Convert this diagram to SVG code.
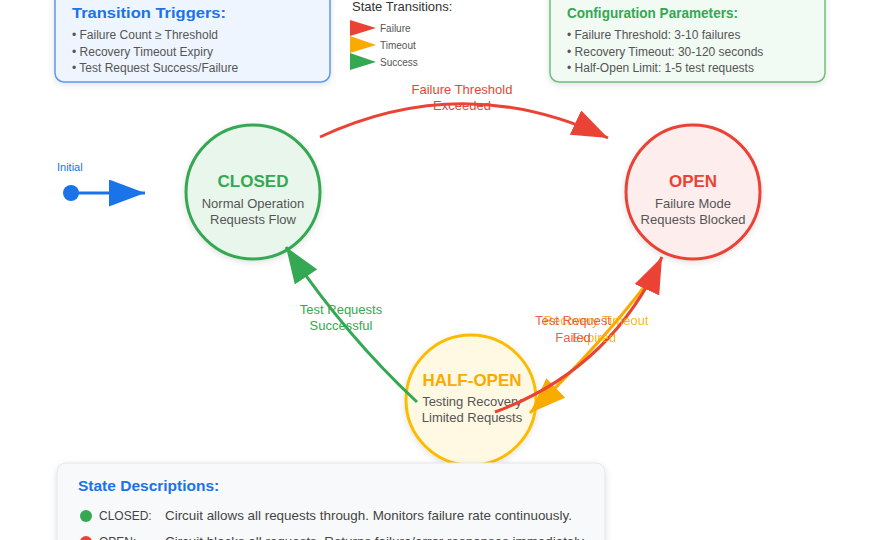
<svg xmlns="http://www.w3.org/2000/svg" width="880" height="540" viewBox="0 0 880 540">
<defs>
<style>
text{font-family:"Liberation Sans",Arial,sans-serif}
.ttl{font-size:15px;font-weight:bold}
.bul{font-size:12px;fill:#555}
.nt{font-size:17px;font-weight:bold;text-anchor:middle}
.ns{font-size:13px;fill:#555;text-anchor:middle}
.lbl{font-size:13px;text-anchor:middle}
.lg{font-size:10px;fill:#555}
.row{font-size:12px;fill:#444}
.desc{font-size:13.4px;fill:#444}
</style>
<filter id="sh" x="-20%" y="-20%" width="140%" height="140%">
<feDropShadow dx="0" dy="2" stdDeviation="3" flood-color="#000" flood-opacity="0.12"/>
</filter>
<marker id="mR" viewBox="0 0 12 9" refX="12" refY="4.5" markerWidth="12" markerHeight="9" orient="auto"><path d="M0,0 L12,4.5 L0,9 Z" fill="#ea4335"/></marker>
<marker id="mO" viewBox="0 0 12 9" refX="12" refY="4.5" markerWidth="12" markerHeight="9" orient="auto"><path d="M0,0 L12,4.5 L0,9 Z" fill="#f9ab00"/></marker>
<marker id="mG" viewBox="0 0 12 9" refX="12" refY="4.5" markerWidth="12" markerHeight="9" orient="auto"><path d="M0,0 L12,4.5 L0,9 Z" fill="#34a853"/></marker>
<marker id="mB" viewBox="0 0 12 9" refX="12" refY="4.5" markerWidth="12" markerHeight="9" orient="auto"><path d="M0,0 L12,4.5 L0,9 Z" fill="#1a73e8"/></marker>
</defs>
<rect width="880" height="540" fill="#ffffff"/>

<g id="triggers">
<rect x="55" y="-10" width="275" height="92" rx="9" fill="#eef5fe" stroke="#5b9be6" stroke-width="1.5" filter="url(#sh)"/>
<text x="72" y="18" class="ttl" fill="#1a73e8" textLength="154" lengthAdjust="spacingAndGlyphs">Transition Triggers:</text>
<text x="72" y="39" class="bul">• Failure Count ≥ Threshold</text>
<text x="72" y="56" class="bul">• Recovery Timeout Expiry</text>
<text x="72" y="72" class="bul">• Test Request Success/Failure</text>
</g>

<g id="legend">
<text x="352" y="11" font-size="13" fill="#333">State Transitions:</text>
<path d="M350,20 L376,28 L350,36 Z" fill="#ea4335"/>
<path d="M350,36 L376,45 L350,53 Z" fill="#f9ab00"/>
<path d="M350,53 L376,62 L350,70 Z" fill="#34a853"/>
<text x="380" y="32" class="lg">Failure</text>
<text x="380" y="49" class="lg">Timeout</text>
<text x="380" y="66" class="lg">Success</text>
</g>

<g id="config">
<rect x="550" y="-10" width="275" height="92" rx="9" fill="#f1faf3" stroke="#6cc07e" stroke-width="1.5" filter="url(#sh)"/>
<text x="567" y="18" class="ttl" fill="#34a853" textLength="171" lengthAdjust="spacingAndGlyphs">Configuration Parameters:</text>
<text x="567" y="39" class="bul">• Failure Threshold: 3-10 failures</text>
<text x="567" y="56" class="bul">• Recovery Timeout: 30-120 seconds</text>
<text x="567" y="72" class="bul">• Half-Open Limit: 1-5 test requests</text>
</g>

<g id="closed">
<circle cx="253" cy="192" r="67" fill="#e9f6ec" stroke="#34a853" stroke-width="3" filter="url(#sh)"/>
<text x="253" y="187" class="nt" fill="#34a853">CLOSED</text>
<text x="253" y="208" class="ns">Normal Operation</text>
<text x="253" y="224" class="ns">Requests Flow</text>
</g>

<g id="open">
<circle cx="693" cy="192" r="67" fill="#fdeded" stroke="#ea4335" stroke-width="3" filter="url(#sh)"/>
<text x="693" y="187" class="nt" fill="#ea4335">OPEN</text>
<text x="693" y="208" class="ns">Failure Mode</text>
<text x="693" y="224" class="ns">Requests Blocked</text>
</g>

<g id="halfopen">
<circle cx="471" cy="400" r="65" fill="#fff8e3" stroke="#fbbc04" stroke-width="3" filter="url(#sh)"/>
<text x="472" y="386" class="nt" fill="#f9ab00">HALF-OPEN</text>
<text x="472" y="406" class="ns">Testing Recovery</text>
<text x="472" y="422" class="ns">Limited Requests</text>
</g>

<g id="initial">
<circle cx="71" cy="193" r="8" fill="#1a73e8"/>
<text x="57" y="171" font-size="11" fill="#1a73e8">Initial</text>
</g>

<g id="connectors" fill="none" stroke-width="3">
<path d="M71,193 L145,193" stroke="#1a73e8" marker-end="url(#mB)"/>
<path d="M320,137 Q464,70 608,138" stroke="#ea4335" marker-end="url(#mR)"/>
<path d="M648,282 Q600,345 530,413" stroke="#f9ab00" marker-end="url(#mO)"/>
<path d="M495,412 Q610,370 662,257" stroke="#ea4335" marker-end="url(#mR)"/>
<path d="M417,402 Q345,335 286,247" stroke="#34a853" marker-end="url(#mG)"/>
</g>

<g id="labels">
<text x="462" y="94" class="lbl" fill="#ea4335">Failure Threshold</text>
<text x="462" y="110" class="lbl" fill="#ea4335">Exceeded</text>
<text x="596" y="325" class="lbl" fill="#f9ab00" opacity="0.85">Recovery Timeout</text>
<text x="594" y="342" class="lbl" fill="#f9ab00" opacity="0.85">Expired</text>
<text x="573" y="325" class="lbl" fill="#ea4335" opacity="0.85">Test Request</text>
<text x="573" y="342" class="lbl" fill="#ea4335" opacity="0.85">Failed</text>
<text x="341" y="314" class="lbl" fill="#34a853">Test Requests</text>
<text x="341" y="330" class="lbl" fill="#34a853">Successful</text>
</g>

<g id="descriptions">
<rect x="57" y="463" width="548" height="100" rx="9" fill="#f8f9fa" stroke="#e3e5e8" stroke-width="1" filter="url(#sh)"/>
<text x="78" y="491" font-size="15.5" font-weight="bold" fill="#1a73e8">State Descriptions:</text>
<circle cx="86" cy="516" r="6" fill="#34a853"/>
<text x="99" y="520" class="row">CLOSED:</text>
<text x="165" y="520" class="desc">Circuit allows all requests through. Monitors failure rate continuously.</text>
<circle cx="86" cy="542" r="6" fill="#ea4335"/>
<text x="99" y="546" class="row">OPEN:</text>
<text x="165" y="546" class="desc">Circuit blocks all requests. Returns failure/error responses immediately.</text>
</g>
</svg>
